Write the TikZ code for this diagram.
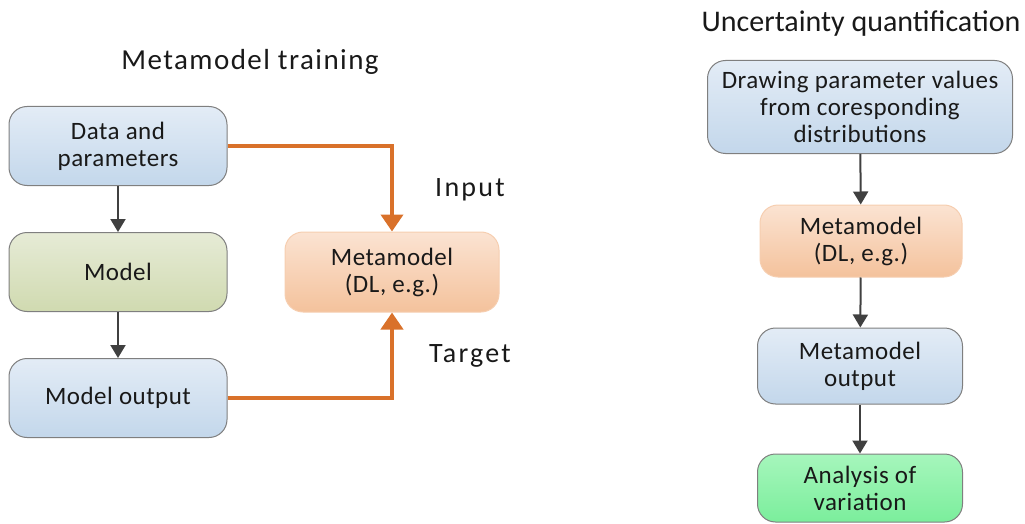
\documentclass[tikz,border=0pt]{standalone}
\usepackage{fontspec}
\setmainfont{Carlito}
\usetikzlibrary{arrows.meta}
\definecolor{boxedge}{HTML}{7F7F7F}
\definecolor{bluetop}{HTML}{E3ECF6}
\definecolor{bluebot}{HTML}{C3D7EB}
\definecolor{greentop}{HTML}{E6EBD6}
\definecolor{greenbot}{HTML}{D0DAB0}
\definecolor{peachtop}{HTML}{FBE3D2}
\definecolor{peachbot}{HTML}{F4C29C}
\definecolor{minttop}{HTML}{A6F6BC}
\definecolor{mintbot}{HTML}{7BEE9C}
\definecolor{flow}{HTML}{D9712A}
\definecolor{darkline}{HTML}{404040}

\begin{document}
\begin{tikzpicture}[
            x=1pt, y=-1pt,
            every node/.append style={font=\fontsize{25}{27}\selectfont\addfontfeature{LetterSpace=2}, text=black!90, align=center},
            box/.style={draw=boxedge, line width=1pt, rounded corners=18pt, inner sep=2pt},
            bluebox/.style={box, top color=bluetop, bottom color=bluebot},
            greenbox/.style={box, top color=greentop, bottom color=greenbot},
            peachbox/.style={box, draw=peachbot!80!white, top color=peachtop, bottom color=peachbot},
            mintbox/.style={box, top color=minttop, bottom color=mintbot},
            label/.style={font=\fontsize{28}{30}\selectfont\addfontfeature{LetterSpace=8}},
            grayarrow/.style={darkline, line width=2pt, -{Triangle[width=15pt,length=13pt]}},
            flowarrow/.style={flow, line width=4pt, -{Triangle[width=22pt,length=17pt]}}
        ]
            \useasboundingbox (0,0) rectangle (1025,524);
            % metamodel training
            \node[font=\fontsize{29}{30}\selectfont\addfontfeature{LetterSpace=5}] (traintitle) at (250,62) {Metamodel training};
            \node[bluebox, minimum width=218pt, minimum height=79pt] (data) at (118,146) {Data and\\parameters};
            \node[greenbox, minimum width=218pt, minimum height=79pt] (model) at (118,272) {Model};
            \node[bluebox, minimum width=218pt, minimum height=79pt] (modelout) at (118,398) {Model output};
            \node[peachbox, minimum width=214pt, minimum height=80pt] (meta) at (392,272) {Metamodel\\(DL, e.g.)};
            \node[label] (input) at (470,190) {Input};
            \node[label] (target) at (470,356) {Target};
            \draw[grayarrow] (data) -- (model);
            \draw[grayarrow] (model) -- (modelout);
            \draw[flowarrow] (data.east) -| (meta.north);
            \draw[flowarrow] (modelout.east) -| (meta.south);
            % uncertainty quantification
            \node[font=\fontsize{30}{30}\selectfont] (uqtitle) at (861,24) {Uncertainty quantification};
            \node[bluebox, minimum width=305pt, minimum height=93pt] (draw) at (860,107) {Drawing parameter values\\from coresponding\\distributions};
            \node[peachbox, minimum width=202pt, minimum height=72pt] (meta2) at (861,241) {Metamodel\\(DL, e.g.)};
            \node[bluebox, minimum width=205pt, minimum height=76pt] (metaout) at (860,366) {Metamodel\\output};
            \node[mintbox, minimum width=205pt, minimum height=68pt] (analysis) at (860,488) {Analysis of\\variation};
            \draw[grayarrow] (draw) -- (meta2);
            \draw[grayarrow] (meta2) -- (metaout);
            \draw[grayarrow] (metaout) -- (analysis);
        \end{tikzpicture}
\end{document}
